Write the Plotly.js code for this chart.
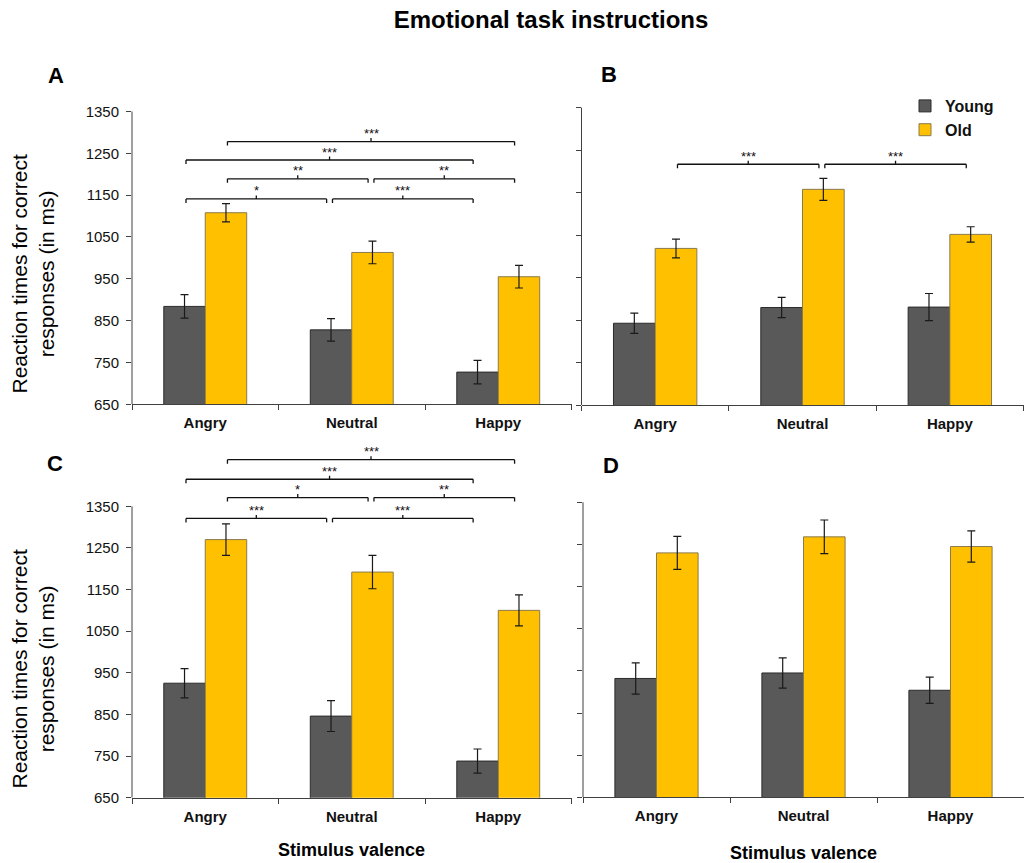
<!DOCTYPE html>
<html>
<head>
<meta charset="utf-8">
<script src="https://cdn.plot.ly/plotly-3.0.1.min.js"></script>
<style>html,body{margin:0;padding:0;background:#fff;}#chart{width:1024px;height:863px;}</style>
</head>
<body>
<div id="chart"></div>
<script>
// ---------------- data ----------------
const categories = ['Angry', 'Neutral', 'Happy'];
const groups = ['Young', 'Old'];

const youngA = [884, 828, 727];
const youngA_err = [28, 27, 28];
const oldA = [1108, 1013, 955];
const oldA_err = [22, 27, 27];

const youngB = [843, 880, 881];
const youngB_err = [24, 24, 32];
const oldB = [1019, 1158, 1052];
const oldB_err = [22, 26, 18];

const youngC = [925, 846, 738];
const youngC_err = [35, 37, 29];
const oldC = [1270, 1192, 1100];
const oldC_err = [38, 40, 37];

const youngD = [932, 945, 904];
const youngD_err = [37, 36, 31];
const oldD = [1230, 1268, 1245];
const oldD_err = [39, 40, 37];

const yTicks = [650, 750, 850, 950, 1050, 1150, 1250, 1350];

// significance brackets: from (category, group) to (category, group), level, label
const sigA_c1 = [0, 0, 0, 1, 0, 1];
const sigA_g1 = [1, 0, 1, 1, 0, 0];
const sigA_c2 = [2, 2, 1, 2, 1, 2];
const sigA_g2 = [1, 0, 1, 1, 0, 0];
const sigA_level = [1278, 1234, 1189, 1189, 1141, 1141];
const sigA_label = ['***', '***', '**', '**', '*', '***'];

const sigB_c1 = [0, 1];
const sigB_g1 = [1, 1];
const sigB_c2 = [1, 2];
const sigB_g2 = [1, 1];
const sigB_level = [1217, 1217];
const sigB_label = ['***', '***'];

const sigC_c1 = [0, 0, 0, 1, 0, 1];
const sigC_g1 = [1, 0, 1, 1, 0, 0];
const sigC_c2 = [2, 2, 1, 2, 1, 2];
const sigC_g2 = [1, 0, 1, 1, 0, 0];
const sigC_level = [1462, 1415, 1371, 1371, 1321, 1321];
const sigC_label = ['***', '***', '*', '**', '***', '***'];

// ---------------- layout helpers ----------------
const W = 1024, H = 863;
const YMIN = 650, YTOP = 1350, YMAX = 1500;
const BARGAP = 0.434;
const FONT = 'Liberation Sans, Arial, sans-serif';
const AXC = '#404040';
const YOUNG_COLOR = '#595959', YOUNG_LINE = '#2b2b2b';
const OLD_COLOR = '#FFC000', OLD_LINE = '#8a7a4e';

function xdom(l, r) { return [l / W, r / W]; }
function ydom(bottomPx, topPx) {
  const per = (bottomPx - topPx) / (YTOP - YMIN);
  const topMax = bottomPx - (YMAX - YMIN) * per;
  return [1 - bottomPx / H, 1 - topMax / H];
}

const panels = [
  {id: '', xd: xdom(132, 571.5), yd: ydom(404.3, 111.5), young: youngA, ye: youngA_err, old: oldA, oe: oldA_err, labels: true, legend: true},
  {id: '2', xd: xdom(581.5, 1023.5), yd: ydom(405.3, 107.7), young: youngB, ye: youngB_err, old: oldB, oe: oldB_err, labels: false, legend: false},
  {id: '3', xd: xdom(132, 571.5), yd: ydom(797.7, 506.3), young: youngC, ye: youngC_err, old: oldC, oe: oldC_err, labels: true, legend: false},
  {id: '4', xd: xdom(583, 1024), yd: ydom(797.3, 502.3), young: youngD, ye: youngD_err, old: oldD, oe: oldD_err, labels: false, legend: false}
];

const traces = [];
const layout = {
  width: W, height: H,
  margin: {l: 0, r: 0, t: 0, b: 0},
  paper_bgcolor: '#fff', plot_bgcolor: 'rgba(0,0,0,0)',
  barmode: 'group', bargap: BARGAP, bargroupgap: 0,
  font: {family: FONT, color: '#111'},
  showlegend: true,
  legend: {
    x: 905 / W, y: 1 - 89 / H, xanchor: 'left', yanchor: 'top',
    font: {family: FONT, size: 16, weight: 'bold', color: '#111'},
    bgcolor: 'rgba(0,0,0,0)', itemwidth: 30, tracegroupgap: 0
  },
  title: {
    text: 'Emotional task instructions',
    x: 551 / W, y: 1 - 20 / H, xanchor: 'center', yanchor: 'middle',
    xref: 'paper', yref: 'paper',
    font: {family: FONT, size: 24, weight: 'bold', color: '#000'}
  },
  shapes: [],
  annotations: []
};

panels.forEach(p => {
  const xa = 'x' + p.id, ya = 'y' + p.id;
  traces.push({
    type: 'bar', name: groups[0], x: categories, y: p.young, xaxis: xa, yaxis: ya,
    marker: {color: YOUNG_COLOR, line: {color: YOUNG_LINE, width: 1}},
    error_y: {type: 'data', array: p.ye, visible: true, color: '#1a1a1a', thickness: 1.2, width: 4},
    showlegend: p.legend, legendgroup: 'young', hoverinfo: 'skip'
  });
  traces.push({
    type: 'bar', name: groups[1], x: categories, y: p.old, xaxis: xa, yaxis: ya,
    marker: {color: OLD_COLOR, line: {color: OLD_LINE, width: 1}},
    error_y: {type: 'data', array: p.oe, visible: true, color: '#1a1a1a', thickness: 1.2, width: 4},
    showlegend: p.legend, legendgroup: 'old', hoverinfo: 'skip'
  });
  layout['xaxis' + p.id] = {
    domain: p.xd, anchor: ya, type: 'category', range: [-0.5, 2.5],
    showline: true, linecolor: AXC, linewidth: 1,
    ticks: 'outside', tickson: 'boundaries', ticklen: 5, tickcolor: AXC, tickwidth: 1,
    ticklabelstandoff: 5,
    tickfont: {family: FONT, size: 15, weight: 'bold', color: '#111'},
    showgrid: false, zeroline: false, fixedrange: true
  };
  layout['yaxis' + p.id] = {
    domain: p.yd, anchor: xa, range: [YMIN, YMAX],
    tickmode: 'array', tickvals: yTicks, ticktext: yTicks.map(String),
    showticklabels: p.labels,
    ticks: 'outside', ticklen: 5, tickcolor: AXC, tickwidth: 1,
    ticklabelstandoff: 4,
    tickfont: {family: FONT, size: 15, color: '#111'},
    showline: false, showgrid: false, zeroline: false, fixedrange: true
  };
  // visible y-axis line only over the tick range
  layout.shapes.push({
    type: 'line', xref: xa + ' domain', yref: ya, x0: 0, x1: 0, y0: YMIN, y1: YTOP,
    line: {color: AXC, width: 1}
  });
});

const groupOffset = g => (g === 0 ? -1 : 1) * (1 - BARGAP) / 4;
const BR = {color: '#111', width: 1.3};
function addBrackets(id, c1, g1, c2, g2, levels, labels) {
  const xr = 'x' + id, yr = 'y' + id;
  for (let i = 0; i < levels.length; i++) {
    const xa = c1[i] + groupOffset(g1[i]) + 0.01;
    const xb = c2[i] + groupOffset(g2[i]) - 0.03;
    const L = levels[i];
    const mid = (xa + xb) / 2;
    layout.shapes.push({type: 'line', xref: xr, yref: yr, x0: xa, x1: xb, y0: L, y1: L, line: BR});
    layout.shapes.push({type: 'line', xref: xr, yref: yr, ysizemode: 'pixel', yanchor: L, x0: xa, x1: xa, y0: 0, y1: -4, line: BR});
    layout.shapes.push({type: 'line', xref: xr, yref: yr, ysizemode: 'pixel', yanchor: L, x0: xb, x1: xb, y0: 0, y1: -4, line: BR});
    layout.shapes.push({type: 'line', xref: xr, yref: yr, ysizemode: 'pixel', yanchor: L, x0: mid, x1: mid, y0: 0, y1: 3.5, line: BR});
    layout.annotations.push({
      xref: xr, yref: yr, x: mid, y: L, text: labels[i], showarrow: false,
      yshift: 8, font: {family: FONT, size: 13, color: '#111'}
    });
  }
}
addBrackets('', sigA_c1, sigA_g1, sigA_c2, sigA_g2, sigA_level, sigA_label);
addBrackets('2', sigB_c1, sigB_g1, sigB_c2, sigB_g2, sigB_level, sigB_label);
addBrackets('3', sigC_c1, sigC_g1, sigC_c2, sigC_g2, sigC_level, sigC_label);

// panel letters
const letters = [['A', 56, 75.5], ['B', 608.5, 74.5], ['C', 55, 463], ['D', 611, 465.5]];
letters.forEach(l => layout.annotations.push({
  xref: 'paper', yref: 'paper', x: l[1] / W, y: 1 - l[2] / H, text: l[0], showarrow: false,
  xanchor: 'center', yanchor: 'middle', font: {family: FONT, size: 22, weight: 'bold', color: '#000'}
}));

// y-axis titles
[['', 274], ['3', 669]].forEach(t => layout.annotations.push({
  xref: 'paper', yref: 'paper', x: 32.5 / W, y: 1 - t[1] / H, textangle: -90,
  text: 'Reaction times for correct<br>responses (in ms)', showarrow: false,
  xanchor: 'center', yanchor: 'middle', font: {family: FONT, size: 21, color: '#000'}
}));

// x-axis titles (centered on the middle category)
[['3', 850], ['4', 853]].forEach(t => layout.annotations.push({
  xref: 'x' + t[0], yref: 'paper', x: 1, y: 1 - t[1] / H, text: 'Stimulus valence', showarrow: false,
  xanchor: 'center', yanchor: 'middle', font: {family: FONT, size: 18, weight: 'bold', color: '#000'}
}));

Plotly.newPlot('chart', traces, layout, {staticPlot: true, displayModeBar: false});
</script>
</body>
</html>
